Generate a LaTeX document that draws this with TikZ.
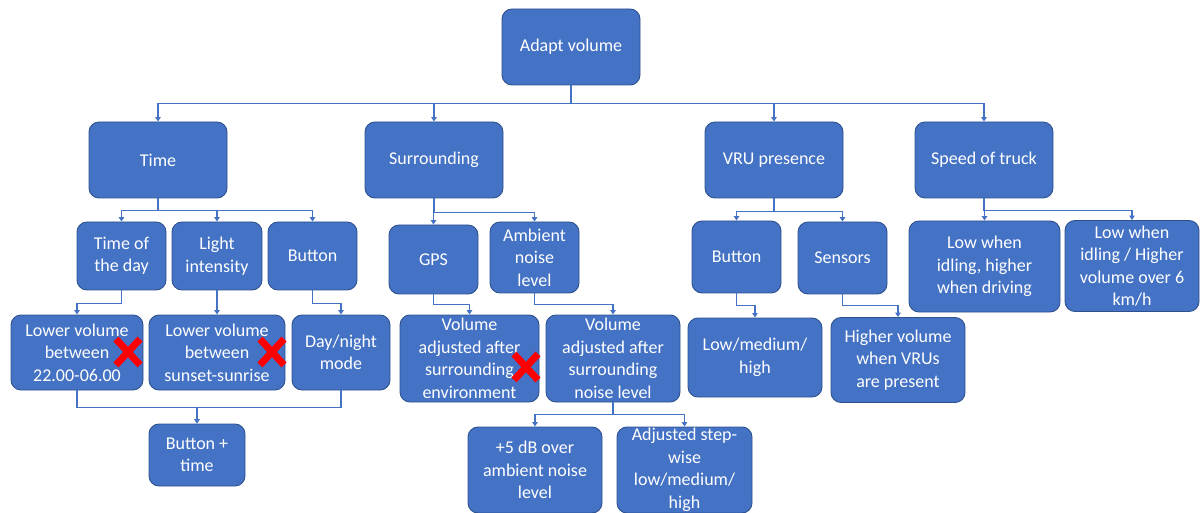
\documentclass[tikz,border=0pt]{standalone}
\usepackage{fontspec}
\setmainfont{Carlito}
\usetikzlibrary{arrows.meta}
\definecolor{boxfill}{HTML}{4472C4}
\definecolor{boxline}{HTML}{2F528F}
\definecolor{wire}{HTML}{4472C4}
\definecolor{crossred}{HTML}{FF0000}
\begin{document}
\begin{tikzpicture}[x=1pt,y=-1pt,
  blk/.style={draw=boxline, line width=0.9pt, fill=boxfill, rounded corners=10pt,
    text=white, align=center, inner sep=0pt,
    font=\fontsize{18}{22.5}\selectfont},
  sz/.style 2 args={minimum width=#1pt, minimum height=#2pt},
  conn/.style={draw=wire, line width=1.3pt, -{Triangle[width=5.5pt,length=4.5pt]}},
  cross/.style={draw=crossred, line width=7pt}]
\useasboundingbox (0,0) rectangle (1200,513);

% root and first level
\node[blk, sz={138}{76}] (av) at (571,47) {Adapt volume};
\node[blk, sz={138}{76}] (time) at (158,160) {Time};
\node[blk, sz={138}{76}] (surr) at (434,160) {Surrounding};
\node[blk, sz={138}{76}] (vru) at (774,160) {VRU presence};
\node[blk, sz={138}{76}] (speed) at (984,160) {Speed of truck};

% time branch
\node[blk, sz={89}{68}] (tod) at (121.5,256) {Time of\\the day};
\node[blk, sz={90}{68}] (light) at (217,256) {Light\\intensity};
\node[blk, sz={89}{68}] (btn) at (312.5,256) {Button};
\node[blk, sz={132}{75}] (lv1) at (77,352.5) {Lower volume\\between\\22.00-06.00};
\node[blk, sz={136}{75}] (lv2) at (217,352.5) {Lower volume\\between\\sunset-sunrise};
\node[blk, sz={98}{75}] (dn) at (341,352.5) {Day/night\\mode};
\node[blk, sz={96}{62}] (bt) at (197,455) {Button +\\time};

% surrounding branch
\node[blk, sz={89}{69}] (gps) at (433.5,259.5) {GPS};
\node[blk, sz={89}{71}] (amb) at (534.5,257.5) {Ambient\\noise\\level};
\node[blk, sz={139}{87}] (vae) at (469.5,358.5) {Volume\\adjusted after\\surrounding\\environment};
\node[blk, sz={134}{87}] (van) at (613,358.5) {Volume\\adjusted after\\surrounding\\noise level};
\node[blk, sz={134}{86}] (db) at (535,470) {+5 dB over\\ambient noise\\level};
\node[blk, sz={135}{86}] (stp) at (684.5,470) {Adjusted step-\\wise\\low/medium/\\high};

% VRU branch
\node[blk, sz={89}{72}] (vbtn) at (736.5,257) {Button};
\node[blk, sz={89}{72}] (sens) at (842.5,258) {Sensors};
\node[blk, sz={134}{79}] (lmh) at (755,357.5) {Low/medium/\\high};
\node[blk, sz={134}{85}] (hv) at (898,360) {Higher volume\\when VRUs\\are present};

% speed branch
\node[blk, sz={151}{91}] (lw1) at (984.5,266.5) {Low when\\idling, higher\\when driving};
\node[blk, sz={134}{91}] (lw2) at (1132,266) {Low when\\idling / Higher\\volume over 6\\km/h};

% connectors
\foreach \t in {time,surr,vru,speed}
  \draw[conn] (av.south) -- ++(0,18) -| (\t.north);
\foreach \t in {tod,light,btn}
  \draw[conn] (time.south) -- ++(0,12) -| (\t.north);
\draw[conn] (tod.south) -- ++(0,13) -| (lv1.north);
\draw[conn] (light.south) -- (lv2.north);
\draw[conn] (btn.south) -- ++(0,13) -| (dn.north);
\draw[conn] (lv1.south) -- ++(0,17) -| (bt.north);
\draw[conn] (dn.south) -- ++(0,17) -| (bt.north);

\foreach \t in {gps,amb}
  \draw[conn] (surr.south) -- ++(0,14) -| (\t.north);
\draw[conn] (gps.south) -- ++(0,10) -| (vae.north);
\draw[conn] (amb.south) -- ++(0,11) -| (van.north);
\foreach \t in {db,stp}
  \draw[conn] (van.south) -- ++(0,12) -| (\t.north);

\foreach \t in {vbtn,sens}
  \draw[conn] (vru.south) -- ++(0,13) -| (\t.north);
\draw[conn] (vbtn.south) -- ++(0,12) -| (lmh.north);
\draw[conn] (sens.south) -- ++(0,11) -| (hv.north);

\foreach \t in {lw1,lw2}
  \draw[conn] (speed.south) -- ++(0,12) -| (\t.north);

% red crosses
\foreach \cx/\cy in {128/352, 272/352, 526/367} {
  \draw[cross] (\cx-12,\cy-13) -- (\cx+12,\cy+13);
  \draw[cross] (\cx-12,\cy+13) -- (\cx+12,\cy-13);
}
\end{tikzpicture}
\end{document}
